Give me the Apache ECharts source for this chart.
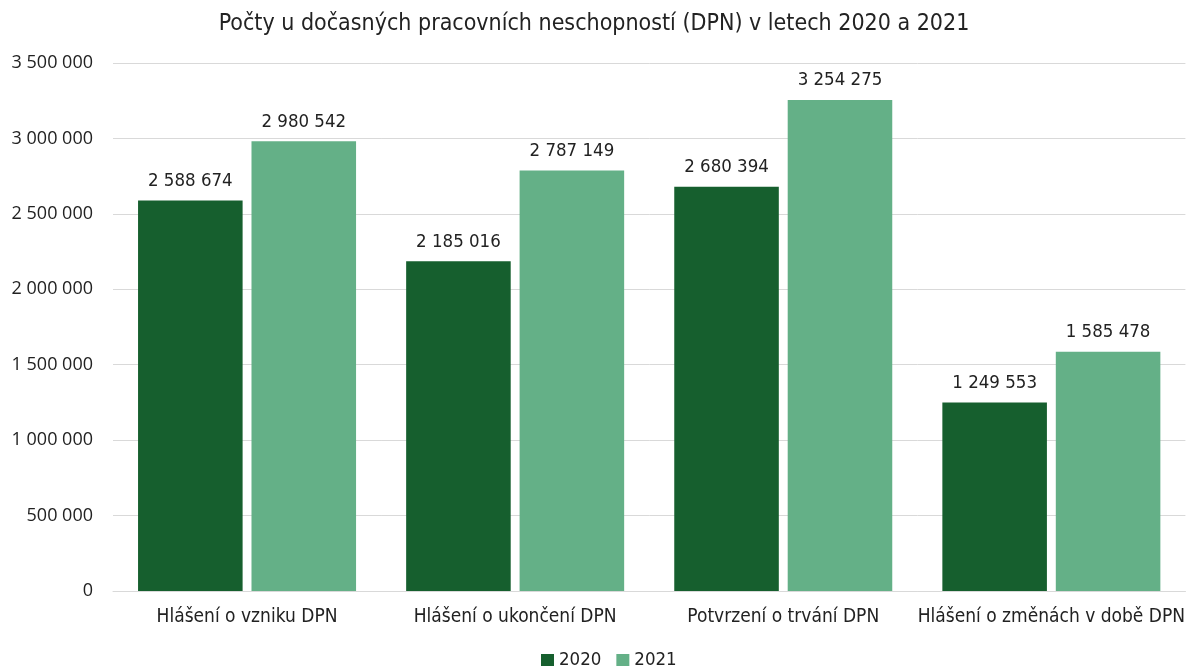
<!DOCTYPE html>
<html><head><meta charset="utf-8">
<script src="https://cdn.jsdelivr.net/npm/echarts@6/dist/echarts.min.js"></script>
<style>html,body{margin:0;padding:0;background:#fff}#c{width:1188px;height:666px}</style>
</head><body><div id="c"></div>
<script>
const categories = ['Hlášení o vzniku DPN', 'Hlášení o ukončení DPN', 'Potvrzení o trvání DPN', 'Hlášení o změnách v době DPN'];
const values2020 = [2588674, 2185016, 2680394, 1249553];
const values2021 = [2980542, 2787149, 3254275, 1585478];
const seriesNames = ['2020', '2021'];

const fmt = v => String(v).replace(/\B(?=(\d{3})+(?!\d))/g, ' ');
const condensed = '"DejaVu Sans Condensed", "DejaVu Sans", sans-serif';
const chart = echarts.init(document.getElementById('c'));
chart.setOption({
  animation: false,
  title: {text: 'Počty u dočasných pracovních neschopností (DPN) v letech 2020 a 2021', left: 'center', top: 8,
    textStyle: {fontFamily: condensed, fontSize: 23, fontWeight: 'normal', color: '#222'}},
  legend: {left: 536, top: 646, itemWidth: 13, itemHeight: 13, itemGap: 15, itemStyle: {borderWidth: 0}, icon: 'rect',
    textStyle: {fontFamily: condensed, fontSize: 18.5, color: '#222', padding: [0, 0, 0, 0]}},
  grid: {left: 113, right: 2, top: 63, bottom: 75},
  xAxis: {type: 'category', data: categories,
    axisLine: {lineStyle: {color: '#d9d9d9'}}, axisTick: {show: false},
    axisLabel: {interval: 0, fontFamily: condensed, fontSize: 19, color: '#222', margin: 17}},
  yAxis: {type: 'value', min: 0, max: 3500000, interval: 500000,
    axisLabel: {formatter: fmt, fontFamily: '"Open Sans", sans-serif', fontSize: 18, color: '#222', margin: 20},
    splitLine: {lineStyle: {color: '#d9d9d9'}}},
  series: [
    {name: seriesNames[0], type: 'bar', data: values2020, barWidth: '39%', barGap: '8.5%',
     itemStyle: {color: '#165F2E'},
     label: {show: true, position: 'top', distance: 10, formatter: p => fmt(p.value), fontFamily: condensed, fontSize: 18.5, color: '#222'}},
    {name: seriesNames[1], type: 'bar', data: values2021, barWidth: '39%',
     itemStyle: {color: '#64B087'},
     label: {show: true, position: 'top', distance: 10, formatter: p => fmt(p.value), fontFamily: condensed, fontSize: 18.5, color: '#222'}}
  ]
});
</script></body></html>
